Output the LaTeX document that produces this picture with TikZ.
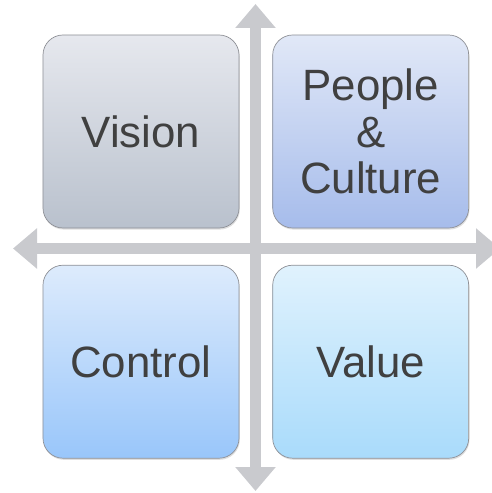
\documentclass[tikz,border=0pt]{standalone}
\usepackage{fontspec}
\setmainfont{Liberation Sans}
\usetikzlibrary{arrows.meta,shadows}

\definecolor{axisgray}{HTML}{C9CACE}
\definecolor{boxline}{HTML}{8E9096}
\definecolor{label}{HTML}{404040}
\definecolor{visiontop}{HTML}{E6E8EE}
\definecolor{visionbot}{HTML}{B9C1CD}
\definecolor{peopletop}{HTML}{E1E8F7}
\definecolor{peoplebot}{HTML}{A6BCEB}
\definecolor{controltop}{HTML}{DDEBFC}
\definecolor{controlbot}{HTML}{99C6FA}
\definecolor{valuetop}{HTML}{E0F2FD}
\definecolor{valuebot}{HTML}{A9DBFB}

\tikzset{
  quadrant/.style={
    draw=boxline, line width=0.7bp,
    rounded corners=20bp,
    minimum width=196bp, minimum height=193bp,
    inner sep=0pt, align=center, text=label,
    font=\fontsize{44}{46.5}\selectfont,
    drop shadow={opacity=0.25, shadow xshift=0.8bp, shadow yshift=-1.6bp}
  },
  axis/.style={
    draw=axisgray, line width=11bp,
    {Triangle[width=39bp,length=24bp]}-{Triangle[width=39bp,length=24bp]}
  }
}

\begin{document}
\begin{tikzpicture}[x=1bp,y=-1bp]
  \useasboundingbox (0,0) rectangle (492,493);

  % ends of the two axes
  \coordinate (north) at (255.5,4);
  \coordinate (south) at (255.5,491);
  \coordinate (west)  at (13,248.5);
  \coordinate (east)  at (500,248.5);

  % the cross of double-headed axes behind the boxes
  \draw[axis] (west) -- (east);
  \draw[axis] (north) -- (south);

  % the four quadrants
  \node[quadrant, top color=visiontop, bottom color=visionbot]
    (vision) at (141,131.5) {Vision};
  \node[quadrant, top color=peopletop, bottom color=peoplebot]
    (people) at (370.7,131.5) {People\\\&\\Culture};
  \node[quadrant, top color=controltop, bottom color=controlbot]
    (control) at (141,361.7) {Control};
  \node[quadrant, top color=valuetop, bottom color=valuebot]
    (value) at (370.7,361.7) {Value};
\end{tikzpicture}
\end{document}
